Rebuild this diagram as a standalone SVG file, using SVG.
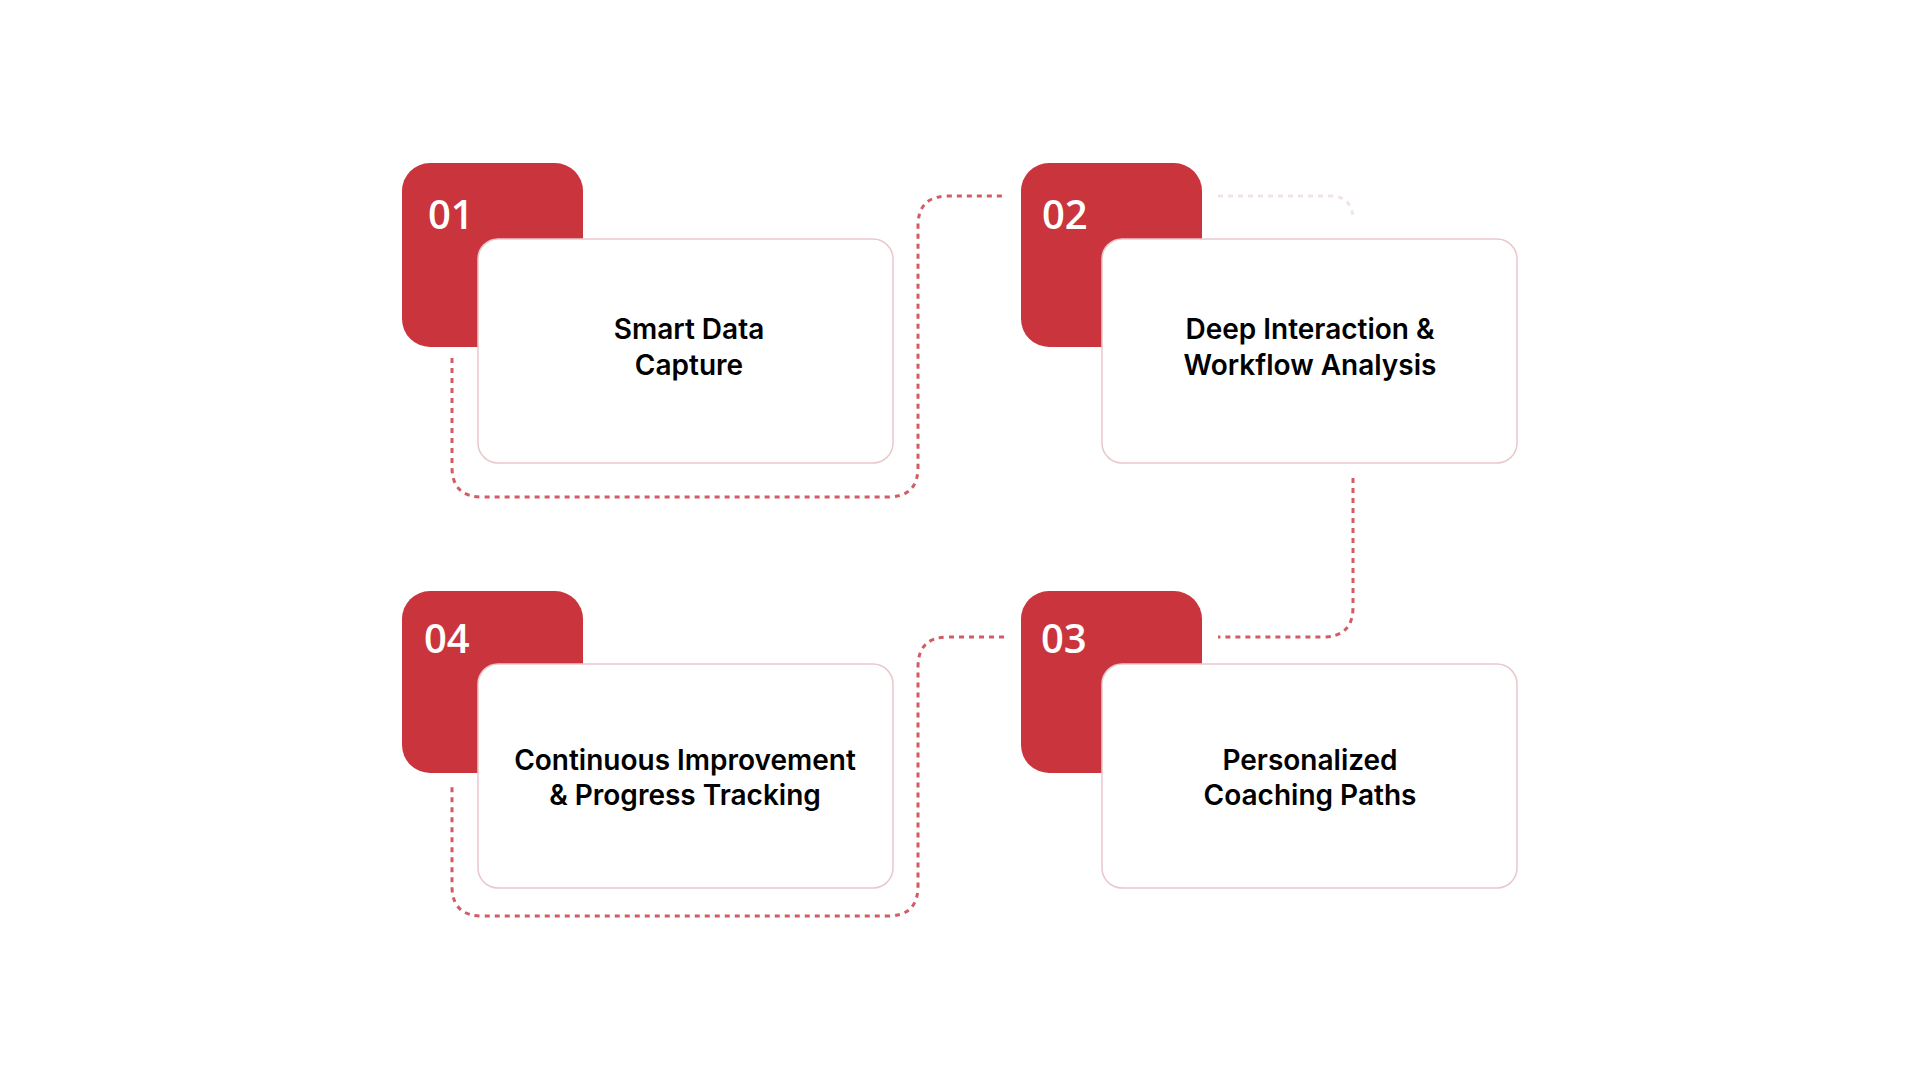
<svg xmlns="http://www.w3.org/2000/svg" width="1920" height="1080" viewBox="0 0 1920 1080">
<style>
.red{fill:#C9343D}
.card{fill:#fff;stroke:#E9C7CA;stroke-width:1.5}
.num{font-family:"Open Sans",sans-serif;font-weight:600;font-size:40px;fill:#fff}
.lbl{font-family:Inter,"Liberation Sans",sans-serif;font-weight:600;font-size:28px;fill:#000;text-anchor:middle}
.dash{fill:none;stroke:#D25C64;stroke-width:3;stroke-dasharray:5 5}
.faint{fill:none;stroke:#F3E3E4;stroke-width:3;stroke-dasharray:5 5}
</style>
<rect width="1920" height="1080" fill="#fff"/>
<g id="connectors">
<path class="dash" d="M452 358 V467 Q452 497 482 497 H888 Q918 497 918 467 V226 Q918 196 948 196 H1004"/>
<path class="faint" d="M1218 196 H1330 Q1353 196 1353 220"/>
<path class="dash" d="M1353 478 V607 Q1353 637 1323 637 H1218"/>
<path class="dash" d="M1004 637 H948 Q918 637 918 667 V886 Q918 916 888 916 H482 Q452 916 452 886 V786"/>
</g>
<g id="node1">
<rect class="red" x="402" y="163" width="181" height="184" rx="28"/>
<text class="num" x="428" y="229">01</text>
<rect class="card" x="478" y="239" width="415" height="224" rx="20"/>
<text class="lbl" x="689" y="339">Smart Data</text>
<text class="lbl" x="689" y="375">Capture</text>
</g>
<g id="node2">
<rect class="red" x="1021" y="163" width="181" height="184" rx="28"/>
<text class="num" x="1042" y="229">02</text>
<rect class="card" x="1102" y="239" width="415" height="224" rx="20"/>
<text class="lbl" x="1310" y="339">Deep Interaction &amp;</text>
<text class="lbl" x="1310" y="375">Workflow Analysis</text>
</g>
<g id="node3">
<rect class="red" x="1021" y="591" width="181" height="182" rx="28"/>
<text class="num" x="1041" y="653">03</text>
<rect class="card" x="1102" y="664" width="415" height="224" rx="20"/>
<text class="lbl" x="1310" y="770">Personalized</text>
<text class="lbl" x="1310" y="805">Coaching Paths</text>
</g>
<g id="node4">
<rect class="red" x="402" y="591" width="181" height="182" rx="28"/>
<text class="num" x="424" y="653">04</text>
<rect class="card" x="478" y="664" width="415" height="224" rx="20"/>
<text class="lbl" x="685" y="770">Continuous Improvement</text>
<text class="lbl" x="685" y="805">&amp; Progress Tracking</text>
</g>
</svg>
